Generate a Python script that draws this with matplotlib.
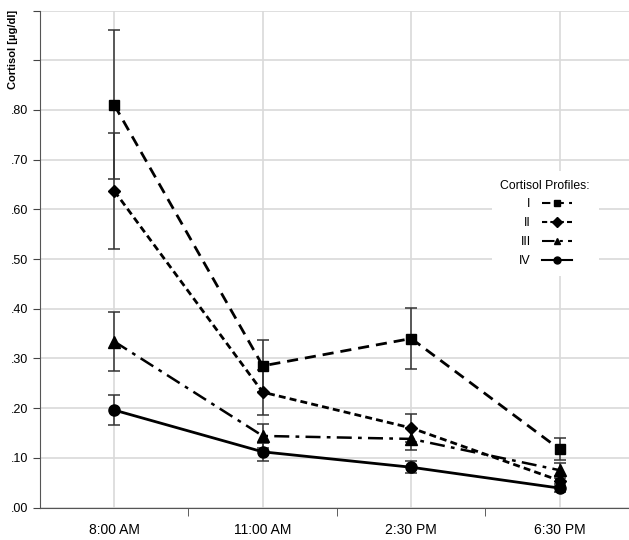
import matplotlib.pyplot as plt
import numpy as np
from matplotlib.lines import Line2D

plt.rcParams['font.family'] = ['Liberation Sans', 'DejaVu Sans']

times = ['8:00 AM', '11:00 AM', '2:30 PM', '6:30 PM']
profiles = ['I', 'II', 'III', 'IV']

mean_I = [0.810, 0.285, 0.340, 0.117]
err_I = [0.150, 0.053, 0.062, 0.022]
mean_II = [0.637, 0.232, 0.160, 0.054]
err_II = [0.117, 0.045, 0.028, 0.010]
mean_III = [0.334, 0.144, 0.138, 0.075]
err_III = [0.060, 0.025, 0.022, 0.015]
mean_IV = [0.196, 0.112, 0.081, 0.039]
err_IV = [0.030, 0.018, 0.012, 0.008]

ytick_labels = ['.00', '.10', '.20', '.30', '.40', '.50', '.60', '.70', '.80']

fig = plt.figure(figsize=(6.29, 5.40), dpi=100)
ax = fig.add_axes([40 / 629, 32.5 / 540, 594 / 629, 497 / 540])

x = np.arange(len(times))
styles = [
    (mean_I, err_I, 's', (0, (4, 2.5)), 7, 2.0),
    (mean_II, err_II, 'D', (0, (2.5, 1.5)), 6, 2.0),
    (mean_III, err_III, '^', (0, (6, 2.5, 1.5, 2.5)), 8, 1.8),
    (mean_IV, err_IV, 'o', '-', 8, 2.0),
]
handles = []
for mean, err, mk, ls, ms, lw in styles:
    ax.errorbar(x, mean, yerr=err, fmt='none', ecolor='#333333',
                elinewidth=1.1, capsize=4, capthick=1.1, zorder=3)
    ax.plot(x, mean, color='black', linestyle=ls, linewidth=lw,
            marker=mk, markersize=ms, zorder=4)
    handles.append(Line2D([], [], color='black', linestyle=ls, linewidth=1.5,
                          marker=mk, markersize=5))

ax.set_xlim(-0.5, 3.5)
ax.set_ylim(0, 1.0)
ax.set_yticks(np.arange(0, 1.01, 0.1))
ax.set_yticklabels(ytick_labels + ['', ''], fontsize=9)
ax.set_xticks(x)
ax.set_xticklabels(times, fontsize=10)
ax.set_xticks([0.5, 1.5, 2.5], minor=True)
ax.tick_params(axis='x', which='major', length=0, pad=11)
ax.tick_params(axis='x', which='minor', length=6, direction='out', color='#444444')
ax.tick_params(axis='y', length=5, direction='out', color='#444444')

ax.grid(True, color='#d9d9d9', linewidth=1.2)
ax.set_axisbelow(True)
for s in ['top', 'right']:
    ax.spines[s].set_visible(False)
ax.spines['left'].set_color('#555555')
ax.spines['bottom'].set_color('#555555')

fig.text(0.012, 0.982, 'Cortisol [\u00b5g/dl]', rotation=90, ha='left', va='top',
         fontsize=8, fontweight='bold')

leg = ax.legend(handles, profiles, title='Cortisol Profiles:', markerfirst=False,
                loc='upper left', bbox_to_anchor=(0.75, 0.69), frameon=True,
                fontsize=9, title_fontsize=8.8, handlelength=2.4,
                labelspacing=0.55, borderpad=0.7, handletextpad=0.9)
leg.get_frame().set_edgecolor('none')
leg.get_frame().set_facecolor('white')
leg.get_frame().set_alpha(1)
leg.set_zorder(5)

fig.savefig('out.png', dpi=100)
